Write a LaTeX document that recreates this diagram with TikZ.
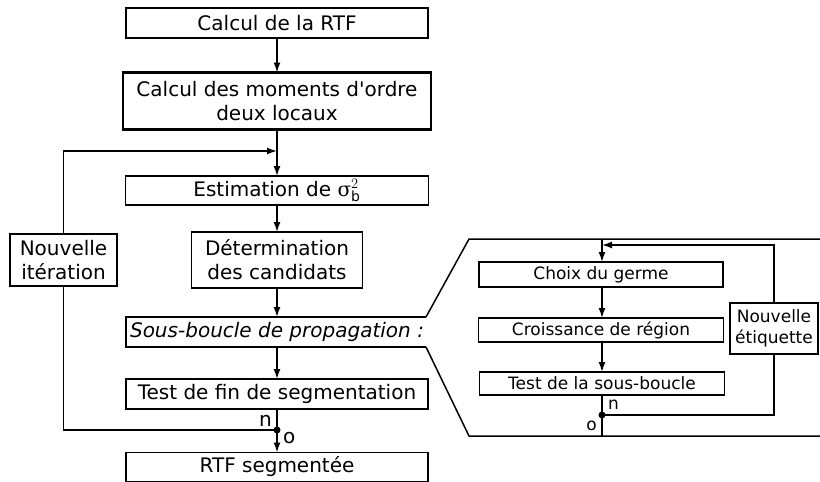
\documentclass[tikz,border=0pt]{standalone}
\usepackage{fontspec}
\setmainfont{DejaVu Sans}[Ligatures=TeXOff]
\newfontfamily\sigfont{DejaVu Serif}
\usetikzlibrary{arrows.meta}
\tikzset{
  box/.style={draw, rectangle, line width=1.5pt, inner sep=0pt, outer sep=0pt, align=center, font=\fontsize{20}{24}\selectfont},
  thickbox/.style={box, line width=2.6pt},
  sbox/.style={box, font=\fontsize{17}{21}\selectfont},
  arr/.style={-{Latex[length=10pt,width=7pt]}, line width=1.5pt},
  ln/.style={line width=1.5pt},
  jdot/.style={circle, fill, inner sep=0pt, minimum size=7pt},
  lab/.style={inner sep=0pt, font=\fontsize{20}{24}\selectfont},
  slab/.style={inner sep=0pt, font=\fontsize{17}{21}\selectfont},
}
\begin{document}
\begin{tikzpicture}[x=1pt,y=-1pt]
\useasboundingbox (0,0) rectangle (820,482);
% main column
\node[box, minimum width=302pt, minimum height=30pt] (rtf) at (277,23) {Calcul de la RTF};
\node[thickbox, minimum width=308pt, minimum height=57pt] (mom) at (277,101) {Calcul des moments d'ordre\\deux locaux};
\node[box, minimum width=303pt, minimum height=29pt] (est) at (277,190.5) {Estimation de $\hbox{\sigfont σ}^{2}_{\mathrm{b}}$};
\node[box, minimum width=171pt, minimum height=56pt] (det) at (277,260) {D\'etermination\\des candidats};
\node[lab, font=\fontsize{20}{24}\selectfont\itshape] (sbt) at (277,332) {Sous-boucle de propagation :};
\node[box, minimum width=302pt, minimum height=30pt] (test) at (277,394) {Test de fin de segmentation};
\node[box, minimum width=302pt, minimum height=29pt] (fin) at (277,467) {RTF segment\'ee};
\node[box, minimum width=107pt, minimum height=52pt] (nit) at (63.5,260) {Nouvelle\\it\'eration};
% sous-boucle frame
\coordinate (sbNE) at (426,317);
\coordinate (sbNW) at (126,317);
\coordinate (sbSW) at (126,347);
\coordinate (sbSE) at (426,347);
\coordinate (zNW) at (469,239);
\coordinate (zNE) at (821,239);
\coordinate (zSW) at (469,436);
\coordinate (zSE) at (821,436);
\draw[ln] (sbNE) -- (sbNW) -- (sbSW) -- (sbSE);
\draw[ln] (sbNE) -- (zNW) -- (zNE);
\draw[ln] (sbSE) -- (zSW) -- (zSE);
% main connectors
\coordinate (j1) at (277,151);
\coordinate (jd) at (277,430);
\draw[arr] (rtf.south) -- (mom.north);
\draw[arr] (mom.south) -- (est.north);
\draw[arr] (nit.north) |- (j1);
\draw[arr] (est.south) -- (det.north);
\draw[arr] (det.south) -- (sbNW -| det.south);
\draw[arr] (sbSW -| test.north) -- (test.north);
\draw[arr] (test.south) -- (fin.north);
\draw[ln] (nit.south) |- (jd);
\node[jdot] (d1) at (jd) {};
\node[lab, anchor=east] (ln1) at (272,421) {n};
\node[lab, anchor=west] (lo1) at (283,438) {o};
% zoom region
\node[sbox, minimum width=244pt, minimum height=25pt] (choix) at (601,274.5) {Choix du germe};
\node[sbox, minimum width=245pt, minimum height=24pt] (crois) at (601,330) {Croissance de r\'egion};
\node[sbox, minimum width=245pt, minimum height=23pt] (tsb) at (602,383.5) {Test de la sous-boucle};
\node[sbox, minimum width=88pt, minimum height=51pt] (net) at (774,328.5) {Nouvelle\\\'etiquette};
\coordinate (ztop) at (602,239);
\coordinate (zfb) at (602,245);
\coordinate (zbot) at (602,436);
\coordinate (zj) at (602,415);
\draw[arr] (ztop) -- (ztop |- choix.north);
\draw[arr] (choix.south -| ztop) -- (crois.north -| ztop);
\draw[arr] (crois.south -| ztop) -- (tsb.north -| ztop);
\draw[ln] (tsb.south -| ztop) -- (zbot);
\draw[ln] (zj) -| (net.south);
\draw[arr] (net.north) |- (zfb);
\node[jdot] (d2) at (zj) {};
\node[slab, anchor=west] (ln2) at (608,405) {n};
\node[slab, anchor=east] (lo2) at (597,426) {o};
\end{tikzpicture}
\end{document}
